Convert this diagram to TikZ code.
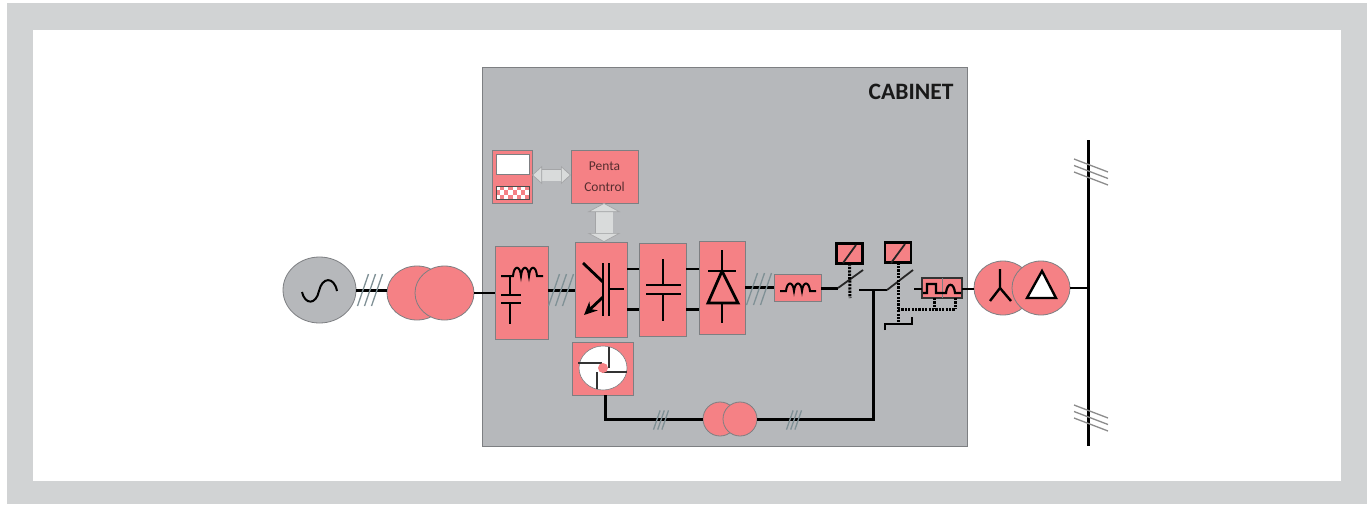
\documentclass[tikz,border=0pt]{standalone}
\usepackage{xcolor}
\usepackage{fontspec}
\setmainfont{Carlito}
\usepackage{tikz}
\usetikzlibrary{shapes.geometric,arrows.meta}

\definecolor{pinkfill}{HTML}{F58185}
\definecolor{cabinetgray}{HTML}{B6B8BB}
\definecolor{framegray}{HTML}{D1D3D4}
\definecolor{edgegray}{HTML}{7D7F82}
\definecolor{hashgray}{HTML}{7F9095}
\definecolor{arrowgray}{HTML}{D9DBDB}

\tikzset{
  hash/.pic={
    \foreach \dx in {-7,0,7}
      \draw [hashgray, line width=1.3pt] (\dx-5.5,16) -- (\dx+5.5,-16);
  },
  bushash/.pic={
    \foreach \dy in {-6.5,0,6.5}
      \draw [black!45, line width=1.3pt] (-15,\dy-6.5) -- (19,\dy+6.5);
  }
}

\begin{document}
\begin{tikzpicture}[x=1pt,y=-1pt,node distance=60pt]
  \tikzstyle{block} = [rectangle, draw=edgegray, fill=pinkfill, line width=1pt, inner sep=0pt, outer sep=0pt]
  \tikzstyle{roundpart} = [ellipse, draw=edgegray, fill=pinkfill, line width=.8pt, inner sep=0pt, outer sep=0pt]
  \tikzstyle{relay} = [rectangle, draw=black, fill=pinkfill, line width=2.6pt, inner sep=0pt, outer sep=0pt, minimum width=26pt, minimum height=20pt]
  \tikzstyle{wire} = [black, line width=3pt]
  \tikzstyle{thinwire} = [black, line width=2.4pt]
  \tikzstyle{symbol} = [black, line width=2.8pt]
  \tikzstyle{blade} = [black!85, line width=1.8pt]
  \tikzstyle{linkdots} = [black, line width=3pt, dash pattern=on 2.2pt off 1.2pt]
  \tikzstyle{sidearrow} = [draw=edgegray!70, double=arrowgray, double distance=11pt, line width=.7pt,
    {Triangle[length=10pt,width=18pt,fill=arrowgray,line width=.7pt]}-{Triangle[length=10pt,width=18pt,fill=arrowgray,line width=.7pt]}]
  \tikzstyle{busarrow} = [draw=edgegray!70, double=arrowgray, double distance=17pt, line width=.7pt,
    {Triangle[length=9pt,width=33pt,fill=arrowgray,line width=.7pt]}-{Triangle[length=9pt,width=33pt,fill=arrowgray,line width=.7pt]}]

  % frame
  \useasboundingbox (0,0) rectangle (1367,504);
  \fill [white] (0,0) rectangle (1367,504);
  \fill [framegray] (7,3) rectangle (1367,504);
  \fill [white] (33,30) rectangle (1341,481);
  \node (cabinet) [rectangle, draw=edgegray, fill=cabinetgray, line width=1pt, inner sep=0pt, minimum width=485pt, minimum height=379pt] at (724.5,256.5) {};
  \node (cabinetlabel) [font=\bfseries\fontsize{23.5}{26}\selectfont, text=black!90] at (911,92) {CABINET};

  % boxes
  \node (filter) [block, minimum width=53pt, minimum height=93pt] at (521.5,292.5) {};
  \node (conv) [block, minimum width=52pt, minimum height=95pt, right of=filter, xshift=19.5pt, yshift=3pt] {};
  \node (capbox) [block, minimum width=47pt, minimum height=93pt, right of=conv, xshift=1.5pt] {};
  \node (diode) [block, minimum width=46pt, minimum height=93pt, right of=capbox, xshift=-.5pt, yshift=2pt] {};
  \node (choke) [block, minimum width=47pt, minimum height=27pt, right of=diode, xshift=15.5pt] {};
  \node (penta) [block, minimum width=67pt, minimum height=53pt, above of=conv, xshift=3.5pt, yshift=53pt, align=center, text=black!65!pinkfill, font=\fontsize{13.5}{21}\selectfont] {Penta\\Control};
  \node (panel) [block, minimum width=40pt, minimum height=53pt, left of=penta, xshift=-32.5pt] {};
  \node (fan) [block, minimum width=61pt, minimum height=53pt, below of=conv, xshift=1.5pt, yshift=-19pt] {};
  \node (sinefilter) [block, draw=black!80, line width=1.2pt, minimum width=40pt, minimum height=20pt] at (942,288) {};

  % machines
  \node (source) [ellipse, draw=edgegray, fill=cabinetgray, line width=.8pt, inner sep=0pt, outer sep=0pt, minimum width=73pt, minimum height=66pt] at (319.5,290) {};
  \node (xfmrA) [roundpart, minimum width=60pt, minimum height=54pt] at (417,293) {};
  \node (xfmrB) [roundpart, minimum width=59pt, minimum height=54pt] at (444.5,293) {};
  \node (auxA) [roundpart, minimum width=34pt, minimum height=34pt] at (720,419) {};
  \node (auxB) [roundpart, minimum width=34pt, minimum height=34pt] at (740,419) {};
  \node (gridA) [roundpart, minimum width=58pt, minimum height=54pt] at (1003,288) {};
  \node (gridB) [roundpart, minimum width=58pt, minimum height=54pt] at (1041,288) {};

  % relays and bus ends
  \node (relayA) [relay] at (849.5,253.5) {};
  \node (relayB) [relay] at (898,252.5) {};
  \coordinate (busA) at (1088,140);
  \coordinate (busB) at (1088,446);
  \coordinate (brkA) at (838,288);
  \coordinate (brkAtip) at (863,270);
  \coordinate (brkB) at (859,290);
  \coordinate (brkBhinge) at (887,290);
  \coordinate (brkBtip) at (913,270);
  \coordinate (stub) at (914,289);
  \coordinate (join) at (873,290);
  \coordinate (dotsA) at (850,298);
  \coordinate (dotsB) at (898,322);
  \coordinate (dotsC) at (898,309);
  \coordinate (hook) at (885,330);

  % power wires
  \draw [wire] (source.east) -- (source.east -| xfmrA.west);
  \draw [thinwire] (xfmrB.east) -- (xfmrB.east -| filter.west);
  \draw [wire] (conv.west |- source.east) -- (filter.east |- source.east);
  \draw [wire] (diode.east) -- (choke.west);
  \draw [wire] (choke.east |- brkA) -- (brkA);
  \draw [thinwire] (conv.east |- 0,269) -- (capbox.west |- 0,269);
  \draw [wire] (conv.east |- 0,309) -- (capbox.west |- 0,309);
  \draw [thinwire] (capbox.east |- 0,269) -- (diode.west |- 0,269);
  \draw [wire] (capbox.east |- 0,309) -- (diode.west |- 0,309);
  \draw [blade] (brkA) -- (brkAtip);
  \draw [thinwire] (brkB) -- (brkBhinge);
  \draw [blade] (brkBhinge) -- (brkBtip);
  \draw [thinwire] (stub) -- (sinefilter.west |- stub);
  \draw [thinwire] (sinefilter.east |- stub) -- (gridA.west |- stub);
  \draw [thinwire] (gridB.east) -- (gridB.east -| busA);
  \draw [wire] (fan.south -| 605,0) |- (auxA.west);
  \draw [wire] (auxB.east) -| (join);
  \draw [wire] (busA) -- (busB);

  % control links
  \draw [linkdots] (relayA.south) -- (dotsA);
  \draw [linkdots] (relayB.south) -- (dotsB);
  \draw [linkdots] (dotsC) -- (dotsC -| 955,0);
  \draw [linkdots] (sinefilter.south -| 934,0) -- (dotsC -| 934,0);
  \draw [linkdots] (sinefilter.south -| 955,0) -- (dotsC -| 955,0);
  \draw [thinwire] (hook) -- (885,324) -- (912,324) -- (912,317);
  \draw [sidearrow] (panel.east |- 0,175) -- (penta.west |- 0,175);
  \draw [busarrow] (penta.south -| 604,0) -- (conv.north -| 604,0);

  % slashes on the three phase lines
  \pic at (370,290) {hash};
  \pic at (561,290) {hash};
  \pic at (759,289) {hash};
  \pic [scale=.6] at (661,420) {hash};
  \pic [scale=.6] at (794,420) {hash};
  \pic at (1089,172) {bushash};
  \pic at (1089,418) {bushash};

  % source wave
  \draw [black, line width=2pt] (302,292) .. controls (305,305) and (316,305) .. (319,291) .. controls (322,277) and (334,276) .. (337,291);

  % panel
  \draw [edgegray, fill=white, line width=.8pt] (496,154) rectangle (529,174);
  \fill [white] (496,186) rectangle (529,199);
  \foreach \col in {0,...,7}
    \foreach \row in {0,1,2} {
      \ifodd\numexpr\col+\row\relax
        \fill [pinkfill] (496+\col*4.125,186+\row*4.33) rectangle ++(4.125,4.33);
      \fi
    }
  \draw [black!70, line width=.6pt] (496,186) rectangle (529,199);

  % filter symbol
  \draw [symbol, line width=2pt] (501,276) -- (513,276) .. controls (514,265) and (520,265) .. (521,276) .. controls (522,265) and (528,265) .. (529,276) .. controls (530,265) and (536,265) .. (537,276) -- (543,276);
  \draw [symbol] (510,276) -- (510,295);
  \draw [symbol] (501,295) -- (521,295);
  \draw [symbol] (501,303) -- (521,303);
  \draw [symbol] (510,303) -- (510,324);

  % igbt
  \draw [symbol] (603,263) -- (603,316);
  \draw [symbol] (609,263) -- (609,316);
  \draw [symbol] (583,263) -- (603,282);
  \draw [symbol] (609,289) -- (624,289);
  \draw [symbol, -{Stealth[length=13pt,width=12pt]}] (603,297) -- (584,315);

  % capacitor
  \draw [symbol] (663,259) -- (663,285);
  \draw [symbol] (646,285) -- (681,285);
  \draw [symbol] (646,294) -- (681,294);
  \draw [symbol] (663,294) -- (663,321);

  % diode
  \draw [symbol] (722,250) -- (722,271);
  \draw [symbol] (708,271) -- (736,271);
  \draw [symbol, line join=miter] (722,271) -- (738,303) -- (708,303) -- cycle;
  \draw [symbol] (722,303) -- (722,323);

  % choke
  \draw [symbol, line width=2pt] (780,291) -- (786,291) .. controls (787,281) and (793,281) .. (794,291) .. controls (795,281) and (801,281) .. (802,291) .. controls (803,281) and (809,281) .. (810,291) -- (816,291);

  % relay slashes
  \draw [blade] (843,263) -- (856,245);
  \draw [blade] (891,263) -- (905,244);

  % sine filter symbol
  \draw [edgegray, line width=.8pt] (942,278) -- (942,298);
  \draw [black, line width=2.2pt] (923,293) -- (927,293) -- (927,284) -- (936,284) -- (936,293) -- (943,293) -- (946,293) .. controls (947,282) and (954,282) .. (955,293) -- (961,293);

  % fan
  \node (fanwheel) [ellipse, fill=white, draw=edgegray, line width=.6pt, inner sep=0pt, minimum width=48pt, minimum height=44pt] at (603,368) {};
  \draw [black!80, line width=1.6pt] (609,347) -- (609,368);
  \draw [black!80, line width=1.6pt] (578,363) -- (602,363);
  \draw [black!80, line width=1.6pt] (602,372) -- (627,372);
  \draw [black!80, line width=1.6pt] (597,372) -- (597,389);
  \node (fanhub) [circle, fill=pinkfill, inner sep=0pt, minimum size=10pt] at (603,368) {};

  % delta and wye
  \draw [symbol, line width=2.4pt] (1000,269) -- (1000,288) -- (990,301);
  \draw [symbol, line width=2.4pt] (1000,288) -- (1011,301);
  \draw [black, fill=white, line width=2.4pt, line join=miter] (1042,271) -- (1056,298) -- (1027,298) -- cycle;
\end{tikzpicture}
\end{document}
